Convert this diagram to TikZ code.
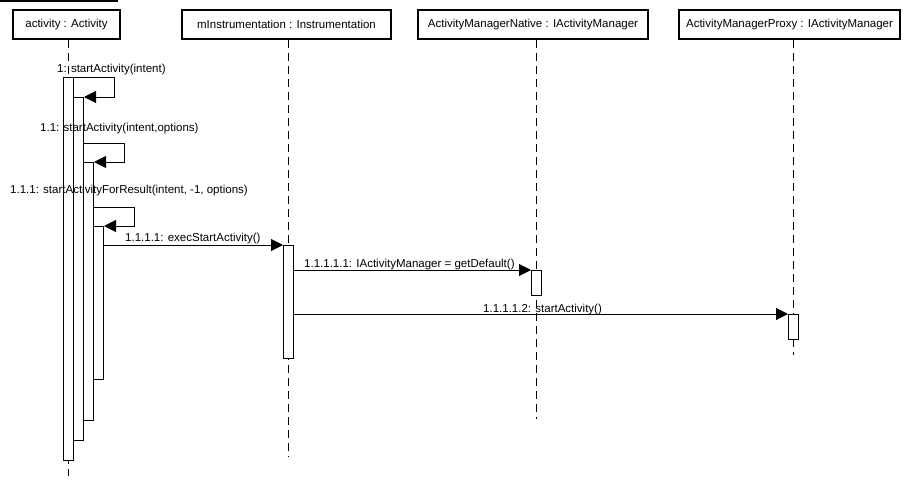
\documentclass[tikz,border=0pt]{standalone}
\usepackage{fontspec}
\setmainfont{Liberation Sans}
\usetikzlibrary{arrows.meta,calc}
\begin{document}
\begin{tikzpicture}[x=1pt,y=-1pt,
  txt/.style={font=\fontsize{11.5}{13}\selectfont},
  head/.style={draw,line width=2pt,minimum height=29pt,inner sep=0pt,txt},
  actbar/.style={draw,fill=white,line width=1pt,minimum width=10pt,inner sep=0pt,anchor=north west},
  life/.style={line width=1pt,dash pattern=on 8pt off 5pt},
  msg/.style={line width=1pt,-{Triangle[length=12pt,width=12pt]}},
  lbl/.style={anchor=west,inner sep=0pt,txt}]
\useasboundingbox (0,0) rectangle (917,485);
\fill[white] (0,0) rectangle (917,485);
\draw[line width=2pt] (0,1) -- (118,1);
% headers
\node[head,minimum width=107pt] (hA) at (66.5,24.5) {activity : Activity};
\node[head,minimum width=209pt] (hI) at (286.5,24.5) {mInstrumentation : Instrumentation};
\node[head,minimum width=230pt] (hN) at (533,24.5) {ActivityManagerNative : IActivityManager};
\node[head,minimum width=221pt] (hP) at (789.5,24.5) {ActivityManagerProxy : IActivityManager};
% lifelines
\coordinate (eA) at (68,476);
\coordinate (eI) at (288,457);
\coordinate (eN) at (536,419);
\coordinate (eP) at (793,355);
\draw[life] (eA |- hA.south) -- (eA);
\draw[life] (eI |- hI.south) -- (eI);
\draw[life] (eN |- hN.south) -- (eN);
\draw[life] (eP |- hP.south) -- (eP);
% activation bars
\node[actbar,minimum height=383pt] (a1) at (63,77) {};
\node[actbar,minimum height=343pt] (a2) at (73,97) {};
\node[actbar,minimum height=258pt] (a3) at (83,162) {};
\node[actbar,minimum height=153pt] (a4) at (93,226) {};
\node[actbar,minimum height=113pt] (i1) at (283,245) {};
\node[actbar,minimum height=25pt] (n1) at (531,270) {};
\node[actbar,minimum height=25pt] (p1) at (788,314) {};
% self calls
\draw[msg] (a1.north east) -- ++(40,0) |- (a2.north east);
\draw[msg] ($(a2.north east)+(0,46)$) -- ++(40,0) |- (a3.north east);
\draw[msg] ($(a3.north east)+(0,45)$) -- ++(40,0) |- (a4.north east);
% messages
\draw[msg] (a4.east |- i1.north) -- (i1.north west);
\draw[msg] (i1.east |- n1.north) -- (n1.north west);
\draw[msg] (i1.east |- p1.north) -- (p1.north west);
% labels
\node[lbl] (l1) at (57,69.5) {1: startActivity(intent)};
\node[lbl] (l2) at (40,128.5) {1.1: startActivity(intent,options)};
\node[lbl] (l3) at (10,190.5) {1.1.1: startActivityForResult(intent, -1, options)};
\node[lbl] (l4) at (125,238.5) {1.1.1.1: execStartActivity()};
\node[lbl] (l5) at (304,264.5) {1.1.1.1.1: IActivityManager = getDefault()};
\node[lbl] (l6) at (483,309.5) {1.1.1.1.2: startActivity()};
\end{tikzpicture}
\end{document}
